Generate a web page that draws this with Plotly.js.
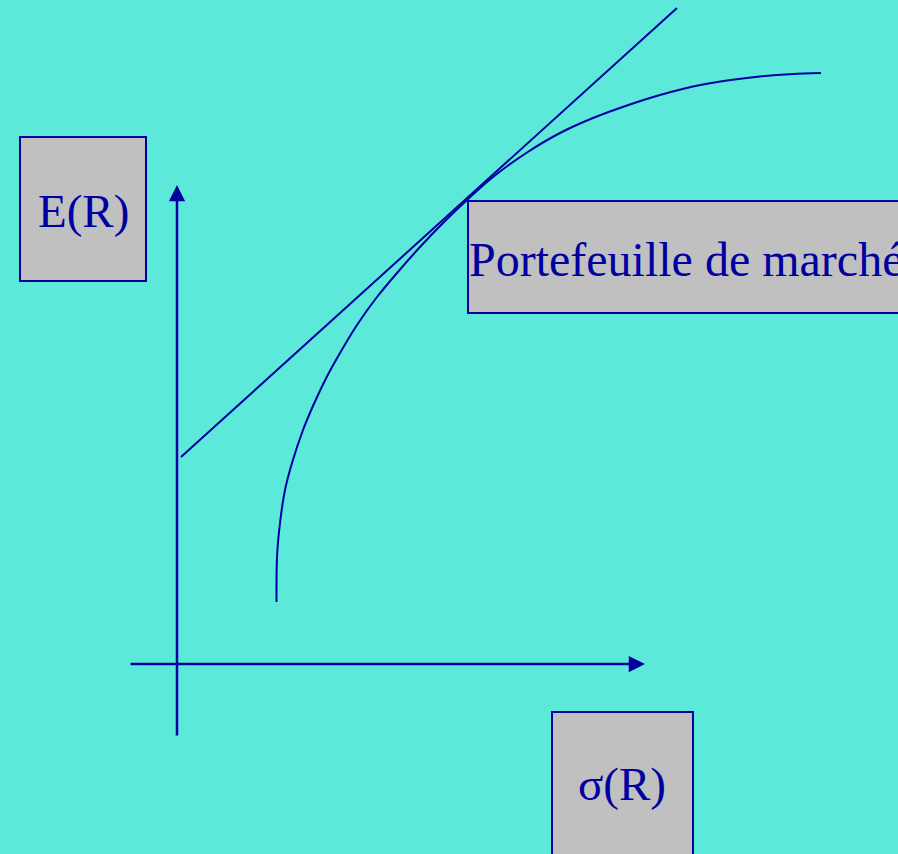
<!DOCTYPE html>
<html>
<head>
<meta charset="utf-8">
<script src="https://cdn.plot.ly/plotly-3.0.1.min.js"></script>
<style>html,body{margin:0;padding:0;background:#5CE9DA;}#chart{width:898px;height:854px;}</style>
</head>
<body>
<div id="chart"></div>
<script>
// Efficient frontier (sigma, expected return) in arbitrary units
const frontierSigma = [9.95, 10.0, 10.3, 10.8, 11.5, 12.6, 13.6, 15.0, 16.3, 18.0, 20.0, 22.0, 24.3, 26.6, 29.0, 31.6, 35.0, 38.3, 41.6, 45.0, 48.3, 51.6, 55.0, 58.3, 61.6, 64.4];
const frontierReturn = [6.2, 10.7, 14.1, 17.4, 20.1, 23.4, 25.8, 28.75, 31.1, 33.9, 36.7, 39.1, 41.7, 44.1, 46.4, 48.7, 51.15, 53.1, 54.6, 55.85, 56.9, 57.75, 58.35, 58.75, 59.0, 59.1];
// Capital market line (tangent)
const cmlSigma = [0.4, 50.0];
const cmlReturn = [20.7, 65.6];
// Labels
const labelY = "E(R)";
const labelX = "σ(R)";
const labelMarket = "Portefeuille de marché";

const navy = "#0000A0";
const gray = "#C0C0C0";
const bg = "#5CE9DA";
const serif = "Liberation Serif, Times New Roman, serif";

const traces = [
  {x: cmlSigma, y: cmlReturn, mode: "lines", line: {color: navy, width: 2}, hoverinfo: "skip"},
  {x: frontierSigma, y: frontierReturn, mode: "lines", line: {color: navy, width: 2, shape: "spline", smoothing: 0.8}, hoverinfo: "skip"}
];

const layout = {
  width: 898, height: 854,
  margin: {l: 0, r: 0, t: 0, b: 0, pad: 0},
  paper_bgcolor: bg, plot_bgcolor: bg,
  showlegend: false,
  xaxis: {range: [-17.7, 72.1], visible: false, fixedrange: true},
  yaxis: {range: [-19.0, 66.4], visible: false, fixedrange: true},
  shapes: [
    {type: "rect", xref: "x", yref: "y", x0: -15.7, x1: -3.1, y0: 38.3, y1: 52.7, fillcolor: gray, line: {color: navy, width: 2}, layer: "above"},
    {type: "rect", xref: "x", yref: "y", x0: 29.1, x1: 73.0, y0: 35.1, y1: 46.3, fillcolor: gray, line: {color: navy, width: 2}, layer: "above"},
    {type: "rect", xref: "x", yref: "y", x0: 37.5, x1: 51.6, y0: -20.0, y1: -4.8, fillcolor: gray, line: {color: navy, width: 2}, layer: "above"}
  ],
  annotations: [
    // vertical axis arrow
    {xref: "x", yref: "y", axref: "x", ayref: "y", x: 0, y: 47.9, ax: 0, ay: -7.3, text: "", showarrow: true, arrowhead: 2, arrowsize: 1.3, arrowwidth: 2.5, arrowcolor: navy},
    // horizontal axis arrow
    {xref: "x", yref: "y", axref: "x", ayref: "y", x: 46.8, y: 0, ax: -4.8, ay: 0, text: "", showarrow: true, arrowhead: 2, arrowsize: 1.3, arrowwidth: 2.5, arrowcolor: navy},
    {xref: "x", yref: "y", x: -9.4, y: 45.3, text: labelY, showarrow: false, font: {family: serif, size: 47, color: navy}},
    {xref: "x", yref: "y", x: 29.1, y: 40.5, xanchor: "left", text: labelMarket, showarrow: false, borderpad: 0, font: {family: serif, size: 48, color: navy}},
    {xref: "x", yref: "y", x: 44.5, y: -12.0, text: labelX, showarrow: false, font: {family: serif, size: 47, color: navy}}
  ]
};

Plotly.newPlot("chart", traces, layout, {displayModeBar: false, staticPlot: true});
</script>
</body>
</html>
